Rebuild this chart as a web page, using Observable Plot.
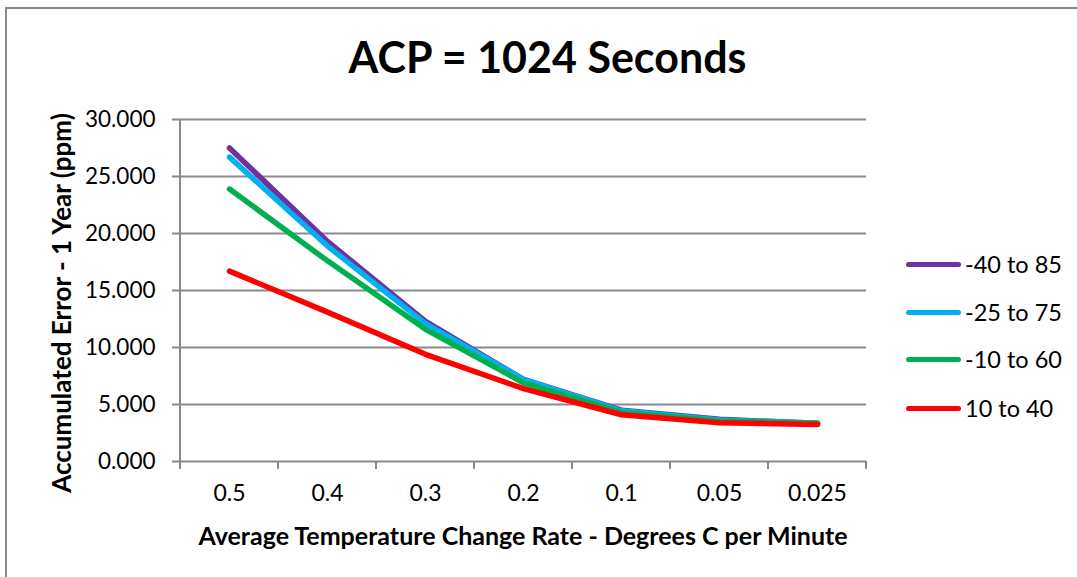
<!DOCTYPE html>
<html><head><meta charset="utf-8">
<script src="https://cdn.jsdelivr.net/npm/d3@7"></script>
<script src="https://cdn.jsdelivr.net/npm/@observablehq/plot@0.6"></script>
<style>
html,body{margin:0;padding:0;background:#fff;}
#wrap{position:relative;width:1077px;height:577px;overflow:hidden;font-family:Lato,"Open Sans",sans-serif;color:#000;}
#bl{position:absolute;left:5px;top:7px;width:2px;height:600px;background:#8a8a8a;}
#bt{position:absolute;left:5px;top:7px;width:1100px;height:2px;background:#8a8a8a;}
#title{position:absolute;left:0;width:1095px;top:31px;text-align:center;font-weight:bold;font-size:43px;line-height:52px;}
#ytitle{position:absolute;left:61px;top:303px;transform:translate(-50%,-50%) rotate(-90deg);white-space:nowrap;font-weight:bold;font-size:26px;}
#xtitle{position:absolute;left:523px;top:535px;transform:translate(-50%,-50%);white-space:nowrap;font-weight:bold;font-size:25px;}
#plot{position:absolute;left:0;top:0;}
#legend{position:absolute;left:906px;top:240px;}
.li{position:absolute;left:0;height:48px;width:170px;}
.li .sw{position:absolute;left:0;top:-2.5px;width:55px;height:5px;border-radius:3px;}
.li .lb{position:absolute;left:59px;top:-15px;font-size:23.5px;line-height:30px;white-space:nowrap;}
</style>
</head><body>
<div id="wrap">
  <div id="bl"></div><div id="bt"></div>
  <div id="plot"></div>
  <div id="title">ACP = 1024 Seconds</div>
  <div id="ytitle">Accumulated Error - 1 Year (ppm)</div>
  <div id="xtitle">Average Temperature Change Rate - Degrees C per Minute</div>
  <div id="legend"></div>
</div>
<script>
const categories = ["0.5", "0.4", "0.3", "0.2", "0.1", "0.05", "0.025"];
const seriesNames = ["-40 to 85", "-25 to 75", "-10 to 60", "10 to 40"];
const seriesColors = ["#7030A0", "#00B0F0", "#00B050", "#FF0000"];
const s40to85 = [27.5, 19.3, 12.3, 7.2, 4.5, 3.7, 3.35];
const s25to75 = [26.7, 18.9, 12.1, 7.2, 4.45, 3.65, 3.35];
const s10to60 = [23.9, 17.6, 11.6, 6.9, 4.3, 3.55, 3.35];
const s10to40 = [16.7, 13.1, 9.4, 6.4, 4.1, 3.4, 3.25];
const yTicks = [0, 5, 10, 15, 20, 25, 30];

const seriesValues = [s40to85, s25to75, s10to60, s10to40];
const data = seriesValues.flatMap((vals, i) =>
  vals.map((v, j) => ({series: seriesNames[i], cat: categories[j], value: v})));

const gray = "#898989";

const xTickMarks = (index, scales, values, dimensions) => {
  const x = scales.x;
  const step = x(categories[1]) - x(categories[0]);
  const bounds = categories.map(c => x(c) - step / 2).concat([x(categories[categories.length - 1]) + step / 2]);
  const yb = dimensions.height - dimensions.marginBottom;
  const g = d3.create("svg:g");
  g.selectAll("line.t").data(bounds).join("line")
    .attr("x1", d => d).attr("x2", d => d)
    .attr("y1", yb).attr("y2", yb + 8)
    .attr("stroke", gray).attr("stroke-width", 2);
  g.append("line")
    .attr("x1", dimensions.marginLeft).attr("x2", dimensions.marginLeft)
    .attr("y1", dimensions.marginTop).attr("y2", yb)
    .attr("stroke", gray).attr("stroke-width", 2);
  return g.node();
};

const chart = Plot.plot({
  width: 1077,
  height: 577,
  marginLeft: 180,
  marginRight: 211,
  marginTop: 119,
  marginBottom: 116,
  style: {fontFamily: "Lato, 'Open Sans', sans-serif", background: "transparent", color: "#000"},
  x: {type: "point", domain: categories, padding: 0.5},
  y: {domain: [0, 30]},
  marks: [
    Plot.gridY(yTicks, {stroke: gray, strokeOpacity: 1, strokeWidth: 2}),
    Plot.axisY(yTicks, {tickFormat: d3.format(".3f"), tickSize: 8, tickPadding: 17, stroke: gray, strokeWidth: 2, fontSize: 22.5, label: null}),
    Plot.axisX({tickSize: 0, tickPadding: 23, fontSize: 23, label: null}),
    xTickMarks,
    Plot.line(data, {x: "cat", y: "value", z: "series", stroke: "series", strokeWidth: 5.5, strokeLinecap: "round", strokeLinejoin: "round"})
  ],
  color: {domain: seriesNames, range: seriesColors}
});
document.getElementById("plot").appendChild(chart);

const legend = document.getElementById("legend");
const legendY = [24, 72, 119, 168];
seriesNames.forEach((name, i) => {
  const item = document.createElement("div");
  item.className = "li";
  item.style.top = legendY[i] + "px";
  item.innerHTML = `<div class="sw" style="background:${seriesColors[i]}"></div><div class="lb">${name}</div>`;
  legend.appendChild(item);
});
</script>
</body></html>
